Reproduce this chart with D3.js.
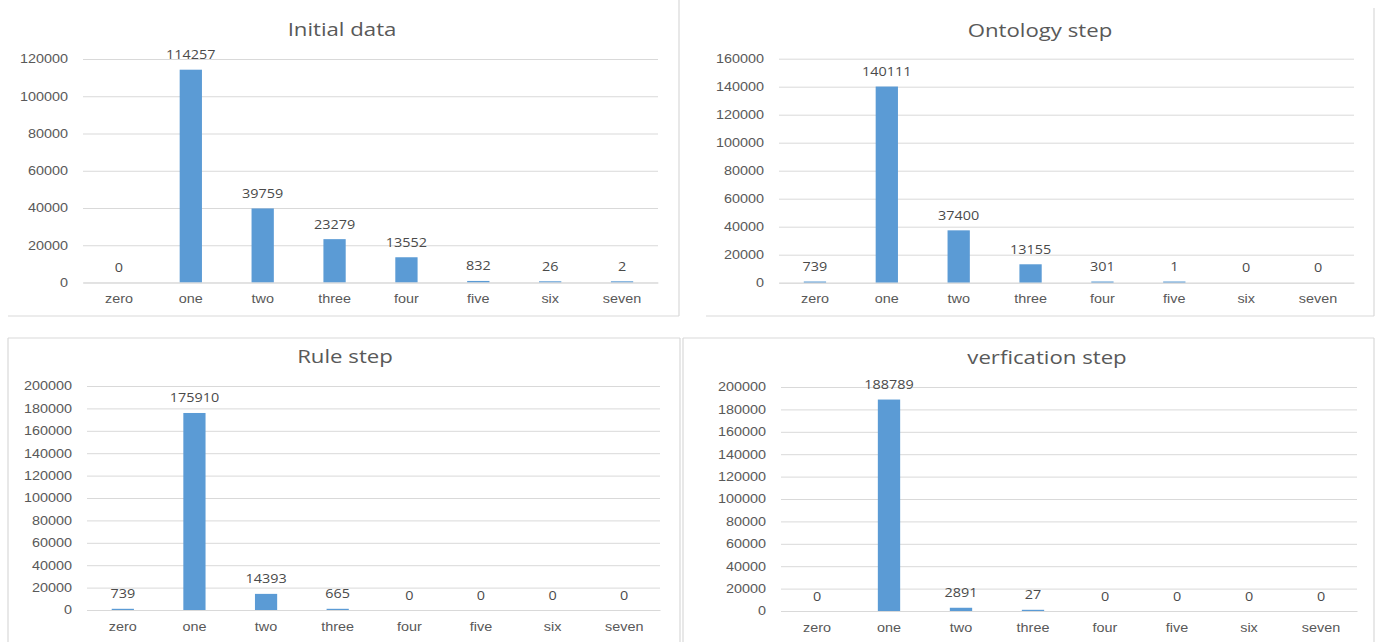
<!DOCTYPE html>
<html>
<head>
<meta charset="utf-8">
<script src="https://cdn.jsdelivr.net/npm/d3@7"></script>
<style>
  html, body { margin: 0; padding: 0; background: #fff; }
  svg { display: block; font-family: "Open Sans", "Liberation Sans", sans-serif; }
</style>
</head>
<body>
<svg id="chart" width="1375" height="642"></svg>
<script>
// Category axis shared by all four charts
const categories = ["zero", "one", "two", "three", "four", "five", "six", "seven"];

// Counts per category at each processing stage
const initialData      = [0, 114257, 39759, 23279, 13552, 832, 26, 2];
const ontologyStep     = [739, 140111, 37400, 13155, 301, 1, 0, 0];
const ruleStep         = [739, 175910, 14393, 665, 0, 0, 0, 0];
const verificationStep = [0, 188789, 2891, 27, 0, 0, 0, 0];

// Chart titles
const titles = ["Initial data", "Ontology step", "Rule step", "verfication step"];

// Value-axis tick labels
const ticksInitial      = [0, 20000, 40000, 60000, 80000, 100000, 120000];
const ticksOntology     = [0, 20000, 40000, 60000, 80000, 100000, 120000, 140000, 160000];
const ticksRule         = [0, 20000, 40000, 60000, 80000, 100000, 120000, 140000, 160000, 180000, 200000];
const ticksVerification = [0, 20000, 40000, 60000, 80000, 100000, 120000, 140000, 160000, 180000, 200000];

// Layout of each chart: plot box, title anchor and frame edges
const layout = [
  { x0: 83,  x1: 658,  yTop: 59,  yZero: 282.5, tx: 342,  ty: 36,
    frame: [[8, 316, 679, 316], [679, 0, 679, 316]] },
  { x0: 779, x1: 1354, yTop: 58.7, yZero: 282.7, tx: 1040, ty: 36.5,
    frame: [[706, 316, 1374, 316], [1374, 8, 1374, 316]] },
  { x0: 87,  x1: 660,  yTop: 386, yZero: 610, tx: 345,  ty: 362.5,
    frame: [[8, 338, 680, 338], [8, 338, 8, 642], [680, 338, 680, 642]] },
  { x0: 781, x1: 1357, yTop: 387, yZero: 611, tx: 1047, ty: 364,
    frame: [[683, 338, 1374, 338], [683, 338, 683, 642], [1374, 338, 1374, 642]] }
];

const series = [initialData, ontologyStep, ruleStep, verificationStep];
const tickSets = [ticksInitial, ticksOntology, ticksRule, ticksVerification];

const SX = 1.2;            // horizontal stretch applied to all text
const BAR = "#5B9BD5";
const GRID = "#D9D9D9";
const TEXT = "#595959";

const svg = d3.select("#chart");

series.forEach((values, i) => {
  const p = layout[i];
  const ticks = tickSets[i];
  const g = svg.append("g");

  // frame
  g.selectAll("line.frame").data(p.frame).join("line")
    .attr("class", "frame")
    .attr("x1", d => d[0]).attr("y1", d => d[1])
    .attr("x2", d => d[2]).attr("y2", d => d[3])
    .attr("stroke", GRID).attr("stroke-width", 1.2);

  const x = d3.scaleBand().domain(categories).range([p.x0, p.x1])
    .paddingInner(0.69).paddingOuter(0.345);
  const y = d3.scaleLinear().domain([0, d3.max(ticks)]).range([p.yZero, p.yTop]);

  // value axis with gridlines
  const ya = g.append("g")
    .attr("transform", `translate(${p.x0},0)`)
    .call(d3.axisLeft(y).tickValues(ticks).tickFormat(d3.format("d"))
      .tickSize(-(p.x1 - p.x0)).tickPadding(15));
  ya.select(".domain").remove();
  ya.selectAll(".tick line").attr("stroke", GRID);
  ya.selectAll(".tick text")
    .attr("x", -15 / SX)
    .attr("transform", `scale(${SX},1)`)
    .attr("fill", TEXT)
    .style("font-size", "12px");

  // bars
  const rows = categories.map((c, k) => ({ c, v: values[k] }));
  const barTop = d => d.v > 0 ? Math.min(y(d.v), y(0) - 1.2) : y(0);
  g.selectAll("rect.bar").data(rows.filter(d => d.v > 0)).join("rect")
    .attr("class", "bar")
    .attr("x", d => x(d.c))
    .attr("width", x.bandwidth())
    .attr("y", barTop)
    .attr("height", d => y(0) - barTop(d))
    .attr("fill", BAR);

  // category axis
  const xa = g.append("g")
    .attr("transform", `translate(0,${p.yZero})`)
    .call(d3.axisBottom(x).tickSize(0).tickPadding(12));
  xa.select(".domain").attr("stroke", GRID);
  xa.selectAll(".tick text")
    .attr("transform", `scale(${SX},1)`)
    .attr("fill", TEXT)
    .style("font-size", "12px");

  // data labels
  g.selectAll("text.val").data(rows).join("text")
    .attr("class", "val")
    .attr("text-anchor", "middle")
    .attr("transform", d => `translate(${x(d.c) + x.bandwidth() / 2},${barTop(d) - 10.5}) scale(${SX},1)`)
    .attr("fill", "#4a4a4a")
    .style("font-size", "12px")
    .text(d => d.v);

  // title
  g.append("text")
    .attr("text-anchor", "middle")
    .attr("transform", `translate(${p.tx},${p.ty}) scale(${SX},1)`)
    .attr("fill", TEXT)
    .style("font-size", "18.5px")
    .text(titles[i]);
});
</script>
</body>
</html>
